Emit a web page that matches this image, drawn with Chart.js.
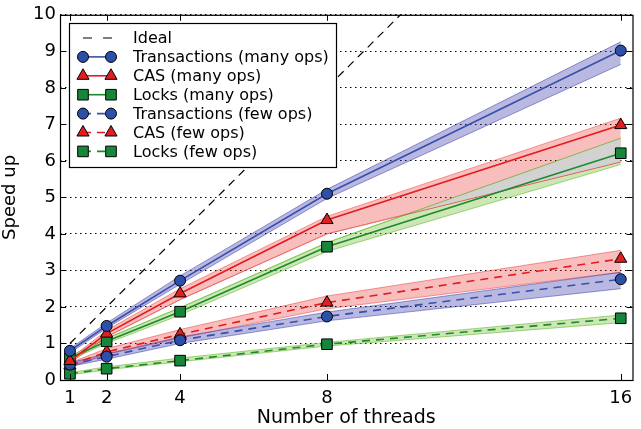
<!DOCTYPE html>
<html>
<head>
<meta charset="utf-8">
<script src="https://cdn.jsdelivr.net/npm/chart.js@4"></script>
<style>
  html, body { margin: 0; padding: 0; background: #fff; }
  #wrap { width: 641px; height: 429px; }
</style>
</head>
<body>
<div id="wrap"><canvas id="speedup"></canvas></div>
<script>
const threads = [1, 2, 4, 8, 16];
const xTicks = [1, 2, 4, 8, 16];
const ideal = [1, 2, 4, 8, 16];

const txMany = [0.8, 1.48, 2.72, 5.1, 9.02];
const txManyLo = [0.74, 1.42, 2.62, 4.97, 8.64];
const txManyHi = [0.86, 1.56, 2.85, 5.22, 9.26];

const casMany = [0.52, 1.27, 2.37, 4.38, 6.98];
const casManyLo = [0.47, 1.18, 2.2, 4.0, 5.97];
const casManyHi = [0.58, 1.36, 2.5, 4.48, 7.17];

const locksMany = [0.6, 1.06, 1.87, 3.65, 6.21];
const locksManyLo = [0.55, 1.0, 1.78, 3.52, 5.9];
const locksManyHi = [0.65, 1.14, 1.98, 3.76, 6.62];

const txFew = [0.42, 0.64, 1.09, 1.74, 2.76];
const txFewLo = [0.37, 0.57, 1.0, 1.62, 2.5];
const txFewHi = [0.47, 0.72, 1.18, 1.86, 2.95];

const casFew = [0.4, 0.77, 1.25, 2.12, 3.32];
const casFewLo = [0.35, 0.7, 1.15, 1.95, 2.95];
const casFewHi = [0.47, 0.86, 1.38, 2.3, 3.55];

const locksFew = [0.17, 0.31, 0.53, 0.98, 1.69];
const locksFewLo = [0.14, 0.28, 0.5, 0.93, 1.57];
const locksFewHi = [0.2, 0.36, 0.6, 1.03, 1.78];

const FONT = "DejaVu Sans";
const BLUE = { line: "#3a4fa8", fill: "#2c50a8", band: "rgba(40,40,165,0.33)", edge: "rgba(40,40,165,0.45)" };
const RED = { line: "#e41a1c", fill: "#e02020", band: "rgba(232,40,40,0.3)", edge: "rgba(232,40,40,0.45)" };
const GREEN = { line: "#1d8a2c", fill: "#16873a", band: "rgba(105,185,45,0.35)", edge: "rgba(105,185,45,0.6)" };
const OVERLAP = "#d2d2d2";
const DASH = [8, 6];

const pts = (ys) => threads.map((x, i) => ({ x, y: ys[i] }));

const series = [
  { label: "Transactions (many ops)", y: txMany, lo: txManyLo, hi: txManyHi, c: BLUE, style: "circle", r: 5.5, dash: [] },
  { label: "CAS (many ops)", y: casMany, lo: casManyLo, hi: casManyHi, c: RED, style: "triangle", r: 7, dash: [] },
  { label: "Locks (many ops)", y: locksMany, lo: locksManyLo, hi: locksManyHi, c: GREEN, style: "rect", r: 7.5, dash: [] },
  { label: "Transactions (few ops)", y: txFew, lo: txFewLo, hi: txFewHi, c: BLUE, style: "circle", r: 5.5, dash: DASH },
  { label: "CAS (few ops)", y: casFew, lo: casFewLo, hi: casFewHi, c: RED, style: "triangle", r: 7, dash: DASH },
  { label: "Locks (few ops)", y: locksFew, lo: locksFewLo, hi: locksFewHi, c: GREEN, style: "rect", r: 7.5, dash: DASH }
];

const datasets = [];
// shaded bands: upper edge fills down to the lower edge that follows it
series.forEach((s) => {
  datasets.push({ data: pts(s.hi), fill: "+1", backgroundColor: s.c.band, borderColor: s.c.edge, borderWidth: 1, pointRadius: 0, order: 10 });
  datasets.push({ data: pts(s.lo), fill: false, borderColor: s.c.edge, borderWidth: 1, pointRadius: 0, order: 10 });
});
// where the CAS and locks (many ops) bands cross, the shared part is grey
const casLoIndex = 3;
datasets.push({
  data: pts(locksManyHi), borderWidth: 0, pointRadius: 0, order: 9,
  fill: { target: casLoIndex, above: OVERLAP, below: "rgba(0,0,0,0)" }
});
datasets.push({ data: pts(casManyLo), fill: false, borderColor: RED.edge, borderWidth: 1, pointRadius: 0, order: 8 });
datasets.push({ data: pts(locksManyHi), fill: false, borderColor: GREEN.edge, borderWidth: 1, pointRadius: 0, order: 8 });

series.forEach((s) => {
  datasets.push({
    label: s.label, data: pts(s.y), fill: false, borderColor: s.c.line, borderWidth: 1.6, borderDash: s.dash,
    pointStyle: s.style, pointRadius: s.r, pointBackgroundColor: s.c.fill, pointBorderColor: "#000", pointBorderWidth: 1, order: 2
  });
});
datasets.push({ label: "Ideal", data: pts(ideal), fill: false, borderColor: "#000", borderWidth: 1.2, borderDash: DASH, pointRadius: 0, order: 1 });

// axis frame, inward ticks and the boxed legend
const framePlugin = {
  id: "frame",
  afterDraw(chart) {
    const { ctx, chartArea: a, scales } = chart;
    ctx.save();
    ctx.strokeStyle = "#000";
    ctx.lineWidth = 1;
    ctx.setLineDash([]);
    ctx.beginPath();
    for (let v = 0; v <= 10; v++) {
      const y = Math.round(scales.y.getPixelForValue(v)) + 0.5;
      ctx.moveTo(a.left, y); ctx.lineTo(a.left + 6, y);
      ctx.moveTo(a.right, y); ctx.lineTo(a.right - 6, y);
    }
    xTicks.forEach((v) => {
      const x = Math.round(scales.x.getPixelForValue(v)) + 0.5;
      ctx.moveTo(x, a.bottom); ctx.lineTo(x, a.bottom - 6);
      ctx.moveTo(x, a.top); ctx.lineTo(x, a.top + 6);
    });
    ctx.stroke();
    ctx.lineWidth = 1.2;
    ctx.strokeRect(a.left + 0.5, a.top + 0.5, a.right - a.left, a.bottom - a.top);

    // legend
    const lx = 69, ly = 23, lw = 267, lh = 144;
    ctx.fillStyle = "#fff";
    ctx.fillRect(lx, ly, lw, lh);
    ctx.lineWidth = 1.2;
    ctx.strokeRect(lx + 0.5, ly + 0.5, lw, lh);
    const rows = [{ label: "Ideal", ideal: true }].concat(series);
    ctx.font = "16px '" + FONT + "'";
    ctx.textBaseline = "middle";
    rows.forEach((s, i) => {
      const y = 38 + i * 18.9;
      ctx.lineWidth = s.ideal ? 1.2 : 1.6;
      ctx.strokeStyle = s.ideal ? "#000" : s.c.line;
      ctx.setLineDash(s.ideal ? [9, 11] : s.dash);
      ctx.beginPath();
      ctx.moveTo(83, y);
      ctx.lineTo(112, y);
      ctx.stroke();
      ctx.setLineDash([]);
      if (!s.ideal) {
        [83, 111].forEach((px) => {
          ctx.fillStyle = s.c.fill;
          ctx.strokeStyle = "#000";
          ctx.lineWidth = 1;
          Chart.helpers.drawPoint(ctx, { pointStyle: s.style, radius: s.r, rotation: 0, borderWidth: 1 }, px, y);
        });
      }
      ctx.fillStyle = "#000";
      ctx.fillText(s.label, 133, y + 1);
    });
    ctx.restore();
  }
};

new Chart(document.getElementById("speedup"), {
  type: "line",
  data: { datasets },
  plugins: [framePlugin],
  options: {
    responsive: true,
    maintainAspectRatio: false,
    animation: false,
    layout: { padding: { top: 13, right: 3, left: 0, bottom: 0 } },
    plugins: { legend: { display: false }, tooltip: { enabled: false } },
    scales: {
      x: {
        type: "linear", min: 0.73, max: 16.32,
        afterBuildTicks: (scale) => { scale.ticks = xTicks.map((v) => ({ value: v })); },
        afterFit: (scale) => { scale.height = 49; },
        grid: { display: false, drawTicks: false },
        border: { display: false },
        ticks: { color: "#000", padding: 8, font: { family: FONT, size: 18 }, maxRotation: 0 },
        title: { display: true, text: "Number of threads", color: "#000", font: { family: FONT, size: 19 }, padding: { top: 0, bottom: 0 } }
      },
      y: {
        min: 0, max: 10,
        afterFit: (scale) => { scale.width = 60; },
        grid: { color: "#000", lineWidth: 1, drawTicks: false },
        border: { display: false, dash: [1.5, 3.5] },
        ticks: { stepSize: 1, color: "#000", padding: 4, font: { family: FONT, size: 18 } },
        title: { display: true, text: "Speed up", color: "#000", font: { family: FONT, size: 18 }, padding: { top: 0, bottom: 4 } }
      }
    }
  }
});
</script>
</body>
</html>
